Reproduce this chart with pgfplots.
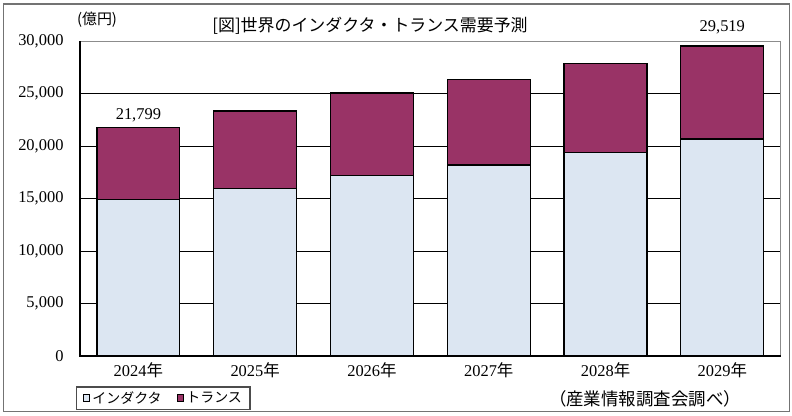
\documentclass[border=0pt]{standalone}
\usepackage{pgfplots}
\pgfplotsset{compat=1.18}
\usepackage{fontspec}
\setmainfont{Liberation Serif}
\newfontfamily\cjk{Noto Sans CJK JP}
\definecolor{ind}{HTML}{DCE6F2}
\definecolor{tra}{HTML}{993366}
\pgfplotstableread{
x ind tra
0 14890 6909
1 15970 7360
2 17170 7880
3 18190 8160
4 19360 8520
5 20670 8849
}\data
\begin{document}
\begin{tikzpicture}[x=1bp,y=1bp]
\path[use as bounding box] (0,0) rectangle (792,415);
\draw[black!55, line width=1.3bp] (3.5,3.5) rectangle (789.5,411);
\begin{axis}[at={(80bp,59bp)}, anchor=south west, scale only axis,
  width=700.7bp, height=315bp, clip=false,
  ybar stacked, bar width=0.71,
  xmin=-0.5, xmax=5.5, ymin=0, ymax=30000,
  xtick={0,...,5},
  xticklabels={{2024\cjk{年}},{2025\cjk{年}},{2026\cjk{年}},{2027\cjk{年}},{2028\cjk{年}},{2029\cjk{年}}},
  ytick={0,5000,...,30000},
  scaled y ticks=false,
  yticklabel={\pgfmathprintnumber[fixed,1000 sep={,},assume math mode=true]{\tick}},
  ymajorgrids, grid style={black, line width=0.8bp},
  axis line style={black!45, line width=1bp},
  tick style={draw=none},
  ticklabel style={font=\fontsize{16.5}{16.5}\selectfont},
  yticklabel style={xshift=-13bp},
  xticklabel style={yshift=-3bp},
  legend style={at={(-0.0057,-0.171)}, anchor=south west, legend columns=2,
    draw=black!70, line width=1.3bp, font=\cjk\fontsize{14}{14}\selectfont,
    inner xsep=6bp, inner ysep=2.5bp,
    /tikz/every even column/.append style={column sep=13bp}},
  legend image code/.code={\draw[#1, draw=black, line width=1.2bp] (0bp,-3.3bp) rectangle (6.6bp,3.3bp);},
]
\addplot[fill=ind, draw=black, line width=1.2bp] table[x=x,y=ind]{\data};
\addlegendentry{インダクタ}
\addplot[fill=tra, draw=black, line width=1.2bp] table[x=x,y=tra]{\data};
\addlegendentry{トランス}
\draw[black, line width=1.2bp] (rel axis cs:0,1) -- (rel axis cs:0,0) -- (rel axis cs:1,0);
\node[font=\fontsize{16.5}{16.5}\selectfont] at (axis cs:0,21799) [above=2bp] {21,799};
\node[font=\fontsize{16.5}{16.5}\selectfont] at (axis cs:5,29519) [above=9bp] {29,519};
\end{axis}
\node[font=\cjk\fontsize{15}{15}\selectfont] at (97,395) {(億円)};
\node[font=\cjk\fontsize{17}{17}\selectfont] at (370,389) {[図]世界のインダクタ・トランス需要予測};
\node[font=\cjk\fontsize{17.5}{17.5}\selectfont] at (645,16) {（産業情報調査会調べ）};
\end{tikzpicture}
\end{document}
